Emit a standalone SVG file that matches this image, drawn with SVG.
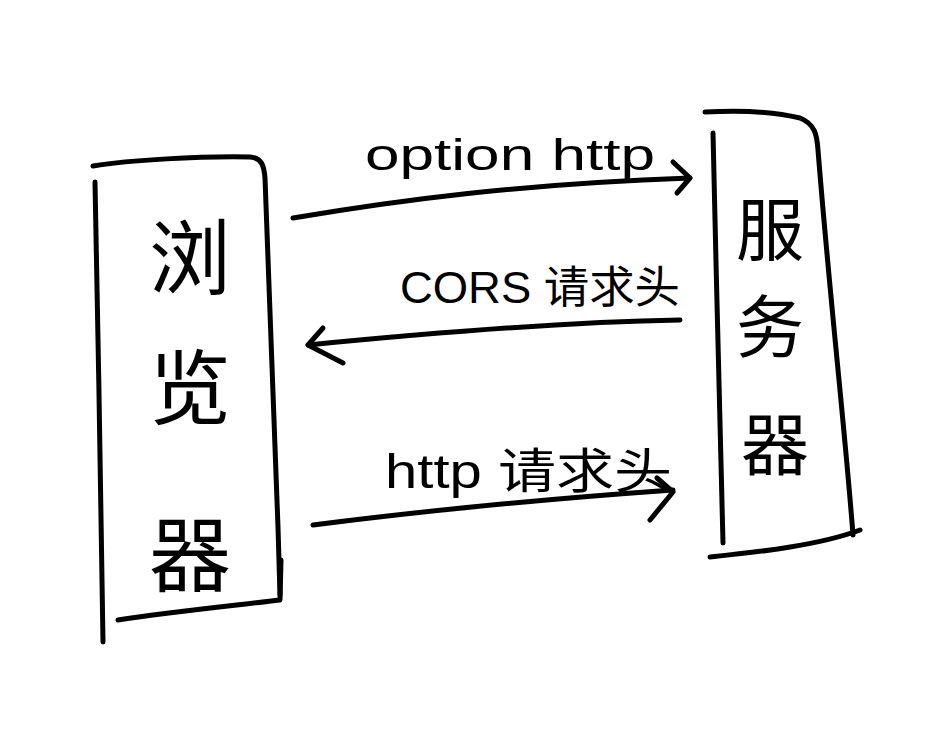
<svg xmlns="http://www.w3.org/2000/svg" width="944" height="747" viewBox="0 0 944 747">
<style>
.s{fill:none;stroke:#000;stroke-width:5;stroke-linecap:round;stroke-linejoin:round}
.t{font-family:"Liberation Sans","Noto Sans CJK SC",sans-serif;fill:#000}
.c{font-family:"Noto Sans CJK SC","Noto Sans",sans-serif;fill:#000;text-anchor:middle}
</style>
<rect width="944" height="747" fill="#fff"/>
<g id="browser">
<path class="s" d="M93,166 C130,160 200,156 250,157 C262,158 264,166 265,178 C270,300 276,450 280,595"/>
<path class="s" d="M281,560 L280,600 C240,605 170,612 118,620"/>
<path class="s" d="M95,182 C98,330 101,500 103,642"/>
<text class="c" x="190" y="288" font-size="82">浏</text>
<text class="c" x="190" y="418" font-size="82">览</text>
<text class="c" x="190" y="585" font-size="82">器</text>
</g>
<g id="server">
<path class="s" d="M705,112 C740,110 775,112 800,118 C815,124 817,135 818,150 C830,300 845,430 853,535"/>
<path class="s" d="M710,557 C760,552 820,545 860,530"/>
<path class="s" d="M713,133 C716,270 720,420 723,543"/>
<text class="c" x="770" y="255" font-size="68">服</text>
<text class="c" x="770" y="352" font-size="68">务</text>
<text class="c" x="775" y="470" font-size="68">器</text>
</g>
<g id="connectors">
<path class="s" d="M293,218 C400,200 520,184 690,178"/>
<path class="s" d="M673,162 L690,178 L677,193"/>
<path class="s" d="M680,320 C560,322 420,334 308,345"/>
<path class="s" d="M323,328 L308,345 L343,363"/>
<path class="s" d="M313,525 C430,510 560,498 673,490"/>
<path class="s" d="M657,478 L673,492 L650,520"/>
</g>
<g id="labels">
<text class="t" x="365" y="170" font-size="44" textLength="290" lengthAdjust="spacingAndGlyphs">option http</text>
<text class="t" x="400" y="303" font-size="44" textLength="280" lengthAdjust="spacingAndGlyphs">CORS 请求头</text>
<text class="t" x="385" y="488" font-size="48" textLength="287" lengthAdjust="spacingAndGlyphs">http 请求头</text>
</g>
</svg>
